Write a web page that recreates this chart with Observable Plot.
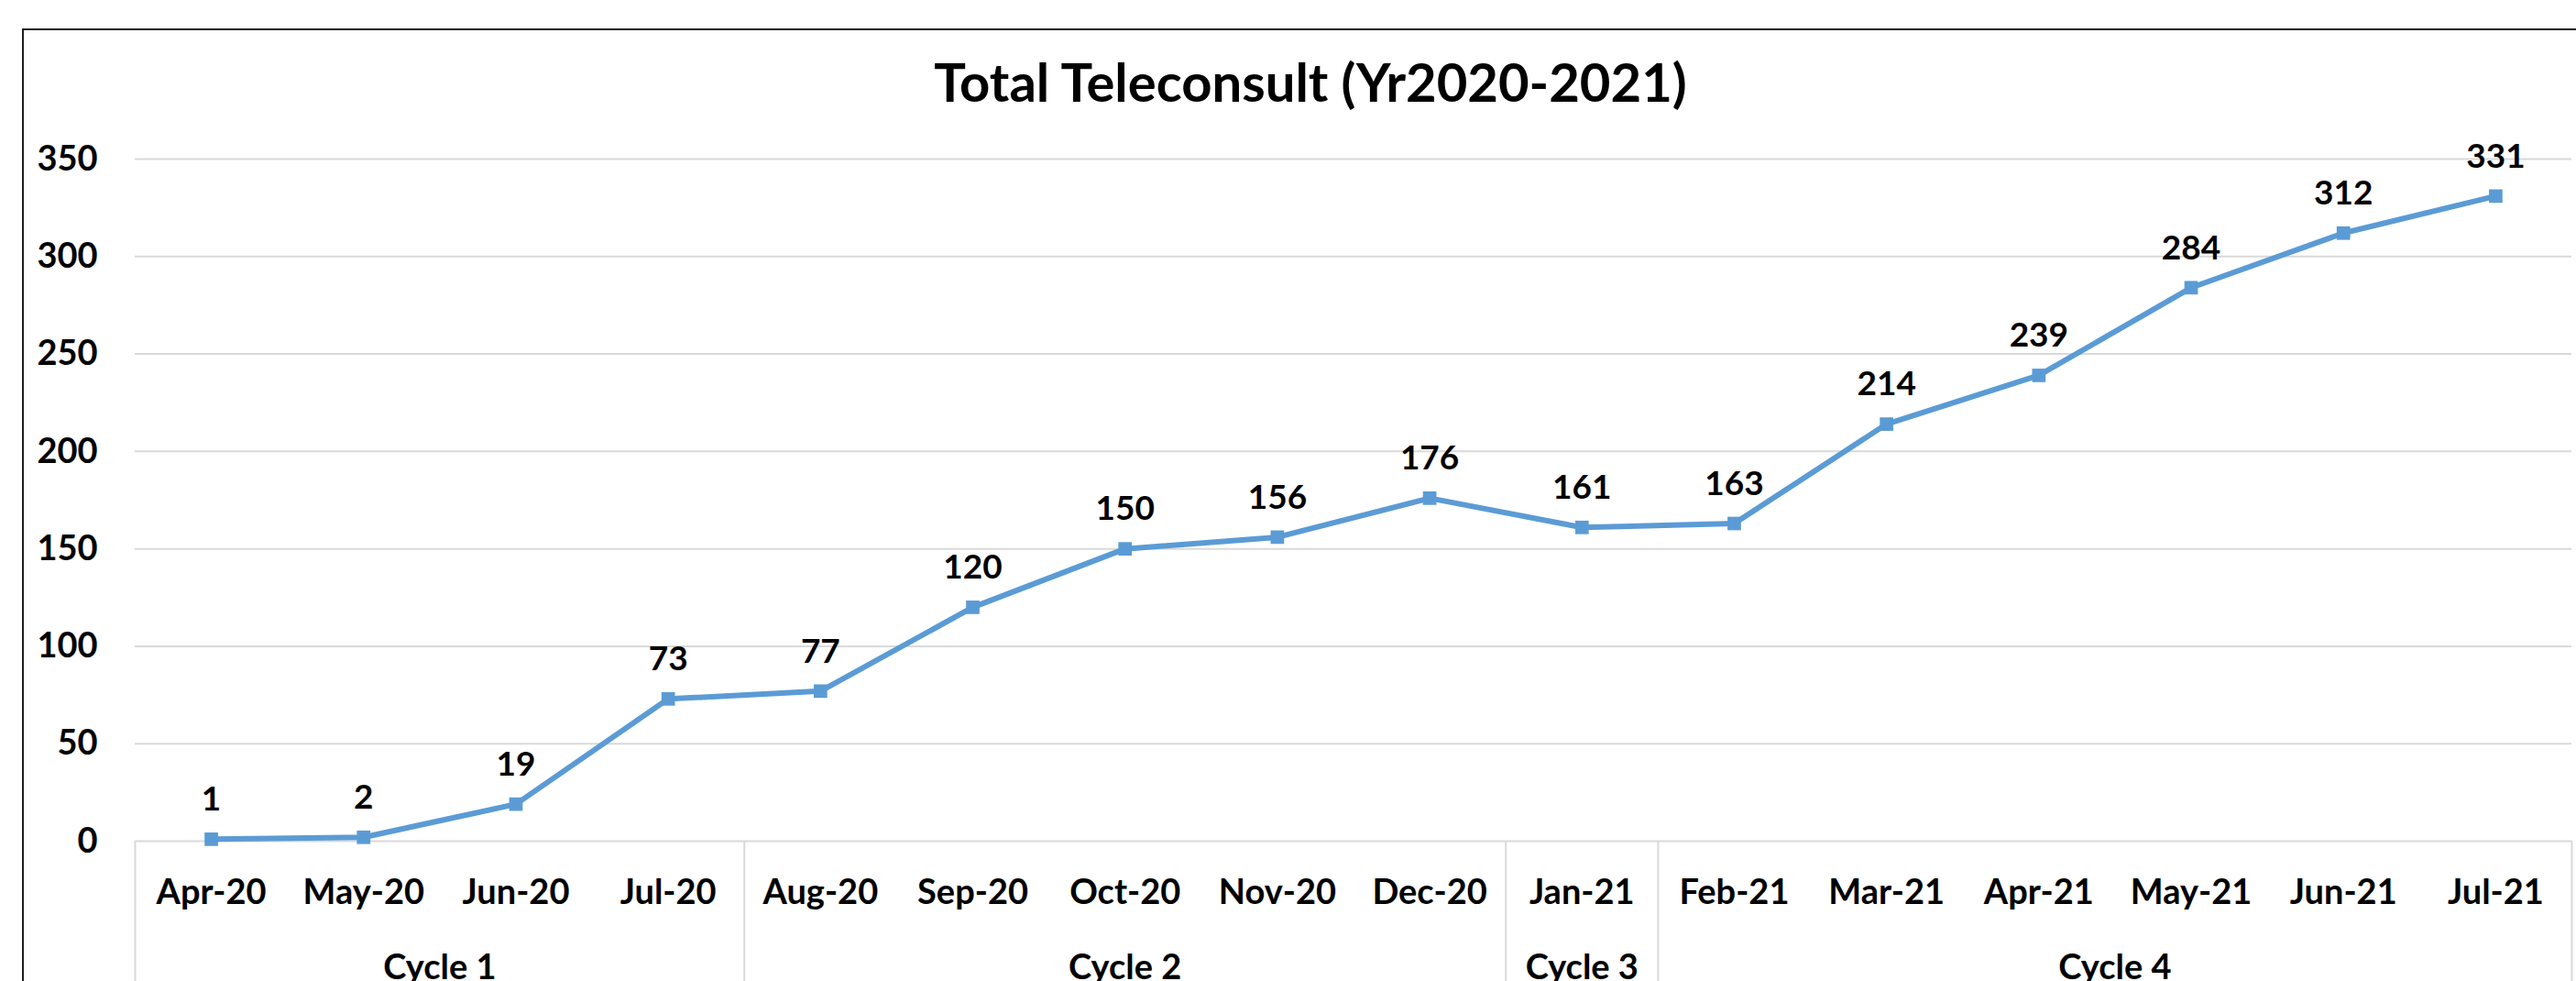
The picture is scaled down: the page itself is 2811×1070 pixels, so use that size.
<!DOCTYPE html>
<html><head><meta charset="utf-8">
<script src="https://cdn.jsdelivr.net/npm/d3@7"></script>
<script src="https://cdn.jsdelivr.net/npm/@observablehq/plot@0.6"></script>
<style>
html,body{margin:0;padding:0;background:#fff;overflow:hidden}
#wrap{position:relative;width:2811px;height:1070px;overflow:hidden;font-family:Lato,"Open Sans",sans-serif}
#frame{position:absolute;left:24px;top:31px;width:3000px;height:1300px;border:2px solid #1e1e1e;pointer-events:none;box-sizing:border-box}
#title{height:140px;box-sizing:border-box;padding-top:60px;padding-left:49px;text-align:center;font-size:58px;line-height:1;font-weight:700;color:#000;white-space:nowrap}
#chart svg{display:block}
</style></head><body>
<div id="wrap"><div id="title"></div><div id="chart"></div><div id="frame"></div></div>
<script>
const titleText = "Total Teleconsult (Yr2020-2021)";
const months = ["Apr-20","May-20","Jun-20","Jul-20","Aug-20","Sep-20","Oct-20","Nov-20","Dec-20","Jan-21","Feb-21","Mar-21","Apr-21","May-21","Jun-21","Jul-21"];
const values = [1,2,19,73,77,120,150,156,176,161,163,214,239,284,312,331];
const cycleNames = ["Cycle 1","Cycle 2","Cycle 3","Cycle 4"];
const cycleSizes = [4,5,1,6];
const yTicks = [0,50,100,150,200,250,300,350];

document.getElementById("title").textContent = titleText;

const data = months.map((m, i) => ({i, month: m, value: values[i]}));
let start = 0;
const cycles = cycleNames.map((name, k) => {
  const s = start, e = start + cycleSizes[k] - 1;
  start += cycleSizes[k];
  return {name, s, e, mid: (s + e) / 2};
});
const boundaries = [-0.5, ...cycles.map(c => c.e + 0.5)];

const W = 2811, H = 930, mT = 33, mB = 153;
const frameH = H - mT - mB;

const chart = Plot.plot({
  width: W, height: H,
  marginLeft: 147, marginRight: 5, marginTop: mT, marginBottom: mB,
  style: {fontFamily: "Lato, 'Open Sans', sans-serif", background: "transparent", color: "#000"},
  x: {type: "linear", domain: [-0.5, months.length - 0.5]},
  y: {domain: [0, 350]},
  marks: [
    Plot.gridY(yTicks, {stroke: "#d9d9d9", strokeWidth: 2, strokeOpacity: 1}),
    Plot.axisY(yTicks, {tickSize: 0, tickPadding: 41, fontSize: 38, fontWeight: "bold", label: null, fill: "#000"}),
    Plot.axisX(d3.range(months.length), {tickSize: 0, tickPadding: 42, fontSize: 38, fontWeight: "bold", tickFormat: i => months[i], label: null, fill: "#000"}),
    Plot.ruleX(boundaries, {stroke: "#d9d9d9", strokeWidth: 2, insetTop: frameH, insetBottom: -mB}),
    Plot.text(cycles, {x: "mid", text: "name", frameAnchor: "bottom", lineAnchor: "top", dy: 124, fontSize: 38, fontWeight: "bold", fill: "#000"}),
    Plot.lineY(data, {x: "i", y: "value", stroke: "#5B9BD5", strokeWidth: 6}),
    Plot.dot(data, {x: "i", y: "value", symbol: "square", r: 8.3, fill: "#5B9BD5"}),
    Plot.text(data, {x: "i", y: "value", text: d => String(d.value), dy: -43, fontSize: 37, fontWeight: "bold", fill: "#000"})
  ]
});
document.getElementById("chart").appendChild(chart);
</script>
</body></html>
